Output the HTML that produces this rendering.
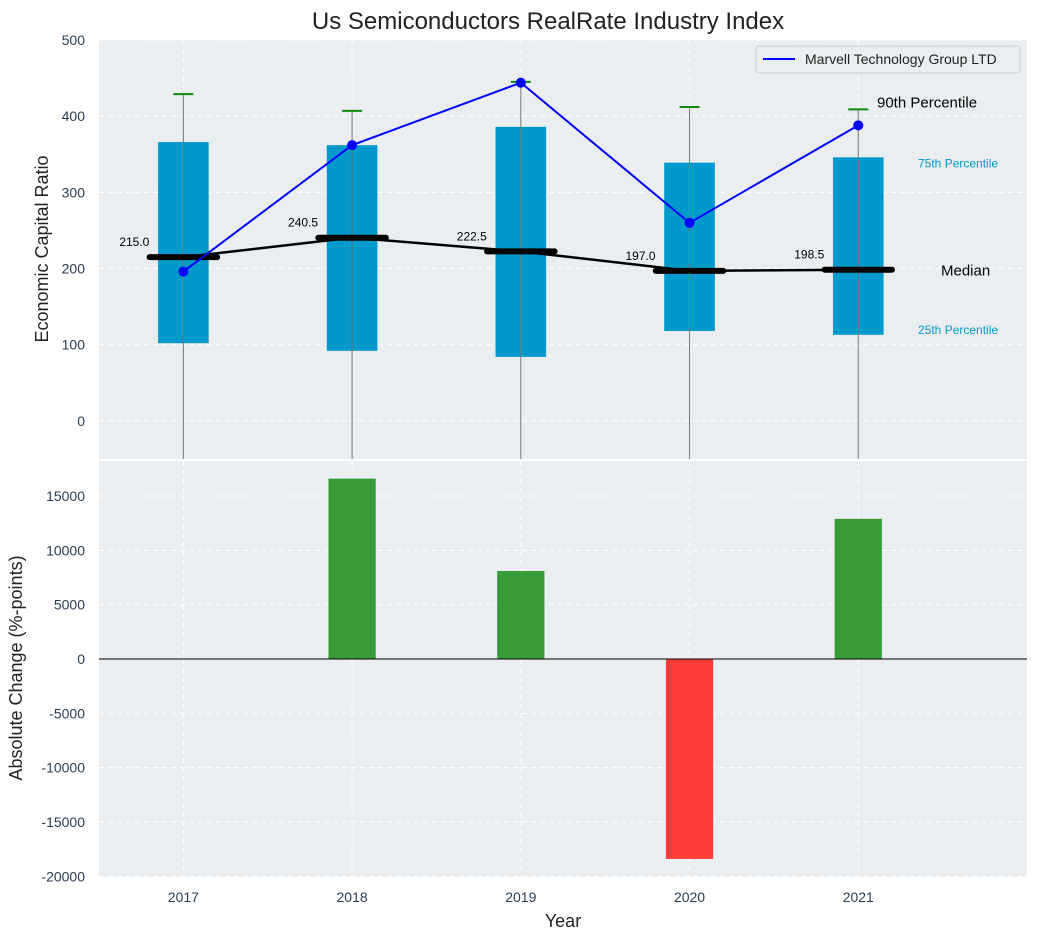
<!DOCTYPE html>
<html><head><meta charset="utf-8"><style>
body{margin:0;background:#fff;font-family:"Liberation Sans",sans-serif}
svg text{font-family:"Liberation Sans",sans-serif}
</style></head><body>
<svg id="c" width="1038" height="940" xmlns="http://www.w3.org/2000/svg"></svg>
<script>
const years=[2017,2018,2019,2020,2021];
const p25=[102,92,84,118,113];
const p75=[366,362,386,339,346];
const p90=[429,407,445,412,409];
const medians=[215,240.5,222.5,197,198.5];
const marvell=[196,362,444,260,388];
const changes=[0,16600,8100,-18400,12900];
const topTicks=[0,100,200,300,400,500];
const botTicks=[-20000,-15000,-10000,-5000,0,5000,10000,15000];

const NS="http://www.w3.org/2000/svg";
const svg=document.getElementById('c');
function el(t,a,txt){const e=document.createElementNS(NS,t);for(const k in a)e.setAttribute(k,a[k]);if(txt!==undefined)e.textContent=txt;svg.appendChild(e);return e;}
const L=99,R=1027;
const x=v=>L+(v-2016.5)/(2022-2016.5)*(R-L);
const T0=40,T1=459;
const yT=v=>T1-(v+50)/550*(T1-T0);
const B0=461,B1=877;
const yB=v=>659-v*(163/15000);

let e=el('rect',{x:L,y:T0,width:R-L,height:T1-T0,fill:'#eaeef0'});

e=el('rect',{x:L,y:B0,width:R-L,height:B1-B0,fill:'#eaeef0'});

years.forEach(v=>{el('line',{x1:x(v),x2:x(v),y1:T0,y2:T1,stroke:'#fff','stroke-dasharray':'5,4'});el('line',{x1:x(v),x2:x(v),y1:B0,y2:B1,stroke:'#fff','stroke-dasharray':'5,4'});});
topTicks.forEach(v=>{el('line',{x1:L,x2:R,y1:yT(v),y2:yT(v),stroke:'#fff','stroke-dasharray':'5,4'});
 e=el('text',{x:L-14,y:yT(v)+5,'text-anchor':'end','font-size':14,fill:'#2b3d52'},v);});
botTicks.forEach(v=>{el('line',{x1:L,x2:R,y1:yB(v),y2:yB(v),stroke:'#fff','stroke-dasharray':'5,4'});
 e=el('text',{x:L-14,y:yB(v)+5,'text-anchor':'end','font-size':14,fill:'#2b3d52'},v);});
years.forEach(v=>{e=el('text',{x:x(v),y:902,'text-anchor':'middle','font-size':14,fill:'#2b3d52'},v);});
const bw=0.3;
years.forEach((v,i)=>{
 e=el('rect',{x:x(v-bw/2),y:yT(p75[i]),width:x(v+bw/2)-x(v-bw/2),height:yT(p25[i])-yT(p75[i]),fill:'#0099cc'});
 
 e=el('line',{x1:x(v),x2:x(v),y1:T1,y2:yT(p90[i]),stroke:'#777','stroke-width':1});
 
 e=el('line',{x1:x(v)-10,x2:x(v)+10,y1:yT(p90[i]),y2:yT(p90[i]),stroke:'#118811','stroke-width':2});
 
});
e=el('polyline',{points:years.map((v,i)=>x(v)+','+yT(medians[i])).join(' '),fill:'none',stroke:'#000','stroke-width':2.5});

years.forEach((v,i)=>{
 e=el('line',{x1:x(v-0.2),x2:x(v+0.2),y1:yT(medians[i]),y2:yT(medians[i]),stroke:'#000','stroke-width':6,'stroke-linecap':'round'});
 
 e=el('text',{x:x(v)-34,y:yT(medians[i])-11,'text-anchor':'end','font-size':12,fill:'#000'},medians[i].toFixed(1));
 
});
e=el('polyline',{points:years.map((v,i)=>x(v)+','+yT(marvell[i])).join(' '),fill:'none',stroke:'#0000ff','stroke-width':2});

years.forEach((v,i)=>{e=el('circle',{cx:x(v),cy:yT(marvell[i]),r:5,fill:'#0000ff'});});
e=el('text',{x:877,y:yT(p90[4])-2,'font-size':15,fill:'#000'},'90th Percentile');
e=el('text',{x:918,y:yT(p75[4])+10,'font-size':12,fill:'#0099cc'},'75th Percentile');
e=el('text',{x:941,y:yT(medians[4])+6,'font-size':15,fill:'#000'},'Median');
e=el('text',{x:918,y:yT(p25[4])-1,'font-size':12,fill:'#0099cc'},'25th Percentile');
e=el('rect',{x:756,y:46,width:264,height:27,rx:3,fill:'#eaeef0',stroke:'#ccc'});
el('line',{x1:763,x2:795,y1:59,y2:59,stroke:'#0000ff','stroke-width':2});
e=el('text',{x:805,y:64,'font-size':14,fill:'#222'},'Marvell Technology Group LTD');
const bb=0.28;
years.forEach((v,i)=>{const c=changes[i];if(c===0)return;
 e=el('rect',{x:x(v-bb/2),y:Math.min(yB(c),yB(0)),width:x(v+bb/2)-x(v-bb/2),height:Math.abs(yB(c)-yB(0)),fill:c>0?'#3a9b3a':'#fc3b3b'});
 });
e=el('line',{x1:L,x2:R,y1:yB(0),y2:yB(0),stroke:'#000','stroke-width':1});

e=el('text',{x:548,y:29,'text-anchor':'middle','font-size':24,fill:'#222'},'Us Semiconductors RealRate Industry Index');
e=el('text',{x:48,y:249,'text-anchor':'middle','font-size':18,fill:'#222',transform:'rotate(-90 48 249)'},'Economic Capital Ratio');
e=el('text',{x:22,y:668,'text-anchor':'middle','font-size':18,fill:'#222',transform:'rotate(-90 22 668)'},'Absolute Change (%-points)');
e=el('text',{x:563,y:927,'text-anchor':'middle','font-size':18,fill:'#222'},'Year');
</script>
</body></html>
